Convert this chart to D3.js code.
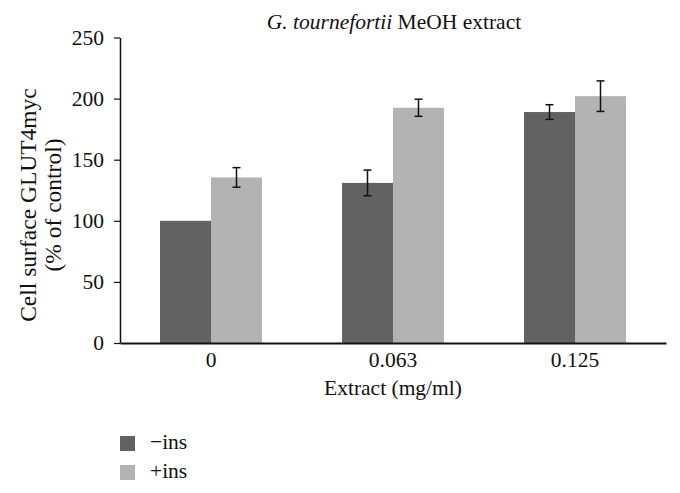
<!DOCTYPE html>
<html><head><meta charset="utf-8">
<script src="https://cdn.jsdelivr.net/npm/d3@7"></script>
<style>body{margin:0;background:#fff}svg{display:block;font-family:"Liberation Serif","DejaVu Serif",serif}</style>
</head><body><svg id="c" width="680" height="493"></svg>
<script>
const categories = ["0", "0.063", "0.125"];
const seriesNames = ["\u2212ins", "+ins"];
const minusIns = [100, 131, 189];
const minusInsErr = [0, 10.5, 6];
const plusIns = [135.5, 192.5, 202];
const plusInsErr = [8, 7, 12.5];
const yTicks = [0, 50, 100, 150, 200, 250];
const colors = ["#626262", "#b3b3b3"];

const FS = 21.5;
const svg = d3.select("#c");
const x0 = 120, x1 = 666, yTop = 37.5, yBot = 343;
const x = d3.scaleBand().domain(categories).range([x0, x1]).paddingInner(0).paddingOuter(0);
const y = d3.scaleLinear().domain([0, 250]).range([yBot, yTop]);
const bw = 51;
const series = [
  {name: seriesNames[0], vals: minusIns, err: minusInsErr, color: colors[0]},
  {name: seriesNames[1], vals: plusIns, err: plusInsErr, color: colors[1]}
];
const xs = d3.scaleBand().domain([0,1]).range([-bw, bw]);

series.forEach((s, si) => {
  const g = svg.append("g");
  g.selectAll("rect").data(categories).join("rect")
    .attr("x", (c) => x(c) + x.bandwidth()/2 + xs(si))
    .attr("width", xs.bandwidth())
    .attr("y", (c, i) => y(s.vals[i]))
    .attr("height", (c, i) => yBot - y(s.vals[i]))
    .attr("fill", s.color);
  categories.forEach((c, i) => {
    if (!s.err[i]) return;
    const cx = x(c) + x.bandwidth()/2 + xs(si) + xs.bandwidth()/2;
    const t = y(s.vals[i] + s.err[i]), b = y(s.vals[i] - s.err[i]);
    g.append("line").attr("x1", cx).attr("x2", cx).attr("y1", t).attr("y2", b).attr("stroke", "#111").attr("stroke-width", 1.5);
    [t, b].forEach(yy => g.append("line").attr("x1", cx - 4).attr("x2", cx + 4).attr("y1", yy).attr("y2", yy).attr("stroke", "#111").attr("stroke-width", 1.5));
  });
});

// y axis
const ya = svg.append("g").attr("transform", `translate(${x0},0)`)
  .call(d3.axisLeft(y).tickValues(yTicks).tickSize(6).tickSizeOuter(0));
ya.attr("font-family", null);
ya.select(".domain").attr("stroke", "#111").attr("stroke-width", 1.5);
ya.selectAll(".tick line").attr("stroke", "#111").attr("stroke-width", 1.2);
ya.selectAll(".tick text").attr("font-size", FS).attr("fill", "#111").attr("x", -16);

// x axis
const xa = svg.append("g").attr("transform", `translate(0,${yBot})`)
  .call(d3.axisBottom(x).tickSize(0).tickSizeOuter(0));
xa.attr("font-family", null);
xa.select(".domain").attr("stroke", "#111").attr("stroke-width", 2);
xa.selectAll(".tick text").attr("font-size", FS).attr("fill", "#111").attr("dy", 0).attr("y", 24);

// title
const title = svg.append("text").attr("x", 394).attr("y", 29).attr("text-anchor", "middle").attr("font-size", FS).attr("fill", "#111");
title.append("tspan").attr("font-style", "italic").text("G. tournefortii");
title.append("tspan").text(" MeOH extract");

// x label
svg.append("text").attr("x", 393).attr("y", 395).attr("text-anchor", "middle").attr("font-size", FS).attr("fill", "#111").text("Extract (mg/ml)");

// y label
const yl = svg.append("text").attr("transform", "translate(0,205) rotate(-90)").attr("text-anchor", "middle").attr("font-size", 23.5).attr("fill", "#111");
yl.append("tspan").attr("x", 0).attr("y", 36).text("Cell surface GLUT4myc");
yl.append("tspan").attr("x", 0).attr("y", 61).text("(% of control)");

// legend
series.forEach((s, i) => {
  const ly = 436 + i * 29;
  svg.append("rect").attr("x", 120).attr("y", ly).attr("width", 15).attr("height", 15).attr("fill", s.color);
  svg.append("text").attr("x", 150).attr("y", ly + 13).attr("font-size", FS).attr("fill", "#111").text(s.name);
});
</script></body></html>
